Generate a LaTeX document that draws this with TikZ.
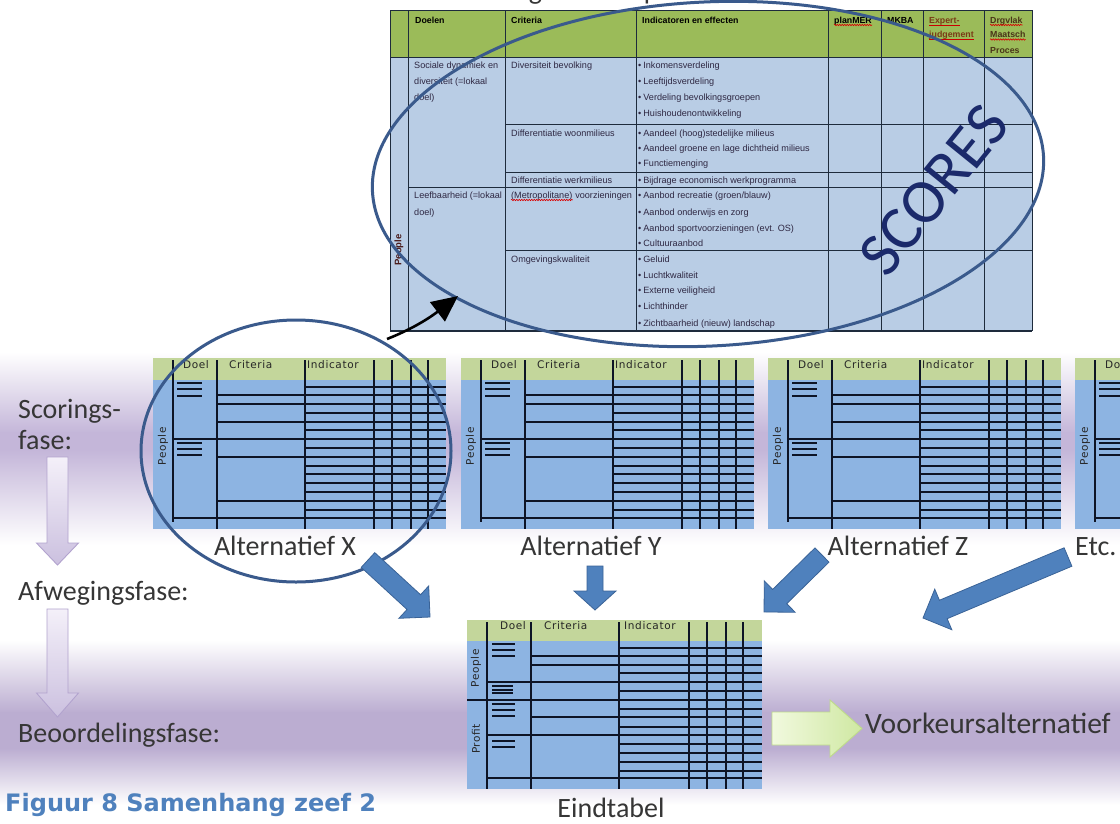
\documentclass[tikz,border=0pt]{standalone}
\usepackage{fontspec}
\setmainfont{Carlito}
\newfontfamily\tblfont{Liberation Sans}
\newfontfamily\hdrfont[LetterSpace=6]{DejaVu Sans}
\newfontfamily\figfont{DejaVu Sans}
\usetikzlibrary{calc,arrows.meta,decorations.pathmorphing}
\definecolor{lav}{HTML}{C4B6D9}
\definecolor{lavb}{HTML}{BBADD1}
\definecolor{tophdr}{HTML}{9BBB59}
\definecolor{topbody}{HTML}{B9CDE5}
\definecolor{topline}{HTML}{1E2B3C}
\definecolor{smhdr}{HTML}{C3D69B}
\definecolor{smbody}{HTML}{8DB4E2}
\definecolor{smline}{HTML}{0D1426}
\definecolor{ellcol}{HTML}{3A5A8C}
\definecolor{scorecol}{HTML}{1B2A6B}
\definecolor{txtcol}{HTML}{363636}
\definecolor{celltxt}{HTML}{2E2742}
\definecolor{barrow}{HTML}{4F81BD}
\definecolor{barrowd}{HTML}{3A6397}
\definecolor{figblue}{HTML}{4F81BD}
\definecolor{brownhdr}{HTML}{7A3B16}
\definecolor{darkbrown}{HTML}{4A3418}
\definecolor{peoplered}{HTML}{4A1C1C}
\definecolor{purpA}{HTML}{F4F0F9}
\definecolor{purpB}{HTML}{CBC0DF}
\definecolor{purpD}{HTML}{B2A3CE}
\definecolor{grnA}{HTML}{F1F9DE}
\definecolor{grnB}{HTML}{CFE8A2}
\definecolor{grnD}{HTML}{BEDB8A}

\tikzset{
  biglabel/.style={font=\fontsize{28}{30}\selectfont, text=txtcol, inner sep=0, anchor=base west},
  gridl/.style={draw=smline, line width=1.4},
  dbar/.style={draw=smline, line width=2.8},
  smh/.style={font=\hdrfont\fontsize{10.5}{11}\selectfont, text=black!85, inner sep=0},
  tgrid/.style={draw=topline, line width=0.9},
  cell/.style={font=\tblfont\fontsize{9.1}{10}\selectfont, text=celltxt, inner sep=0, anchor=base west},
  thd/.style={font=\tblfont\bfseries\fontsize{8.8}{10}\selectfont, text=black, inner sep=0, anchor=base west},
  squig/.style={draw=red!85!black, line width=0.6, decorate, decoration={snake, amplitude=0.7pt, segment length=2.5pt}},
  bluearrow/.style={fill=barrow, draw=barrowd, line width=0.8},
}

% block arrow from coordinate #2 to coordinate #3
\newcommand\blockarr[6]{%
  \pgfmathanglebetweenpoints{\pgfpointanchor{#2}{center}}{\pgfpointanchor{#3}{center}}%
  \edef\baang{\pgfmathresult}%
  \pgfpointdiff{\pgfpointanchor{#2}{center}}{\pgfpointanchor{#3}{center}}%
  \pgfgetlastxy{\bax}{\bay}%
  \pgfmathveclen{\bax}{\bay}%
  \edef\balen{\pgfmathresult}%
  \begin{scope}[shift={(#2)}, rotate=\baang, x=1pt, y=1pt]
    \path[#1] (0,-#4) -- ({\balen-#6},-#4) -- ({\balen-#6},-#5) -- (\balen,0)
      -- ({\balen-#6},#5) -- ({\balen-#6},#4) -- (0,#4) -- cycle;
  \end{scope}}

% small alternative table
\newcommand\alttable[3]{%
\begin{scope}[shift={(#1,#2)}]
  \fill[smhdr] (0,0) rectangle (293,22);
  \fill[smbody] (0,22) rectangle (293,171);
  \foreach \yy in {29,37,46,55,64,72,90,99,108,116,125,134,143,152}
    \draw[gridl] (152,\yy) -- (293,\yy);
  \foreach \yy in {37,46,64,99,143}
    \draw[gridl] (64,\yy) -- (152,\yy);
  \foreach \yy in {81,160}
    \draw[gridl] (20,\yy) -- (293,\yy);
  \draw[gridl] (20,2) -- (20,164);
  \foreach \xx in {64,152,221,239,258,275}
    \draw[gridl] (\xx,2) -- (\xx,171);
  \foreach \yy in {25,31,38,85,91,97}
    \draw[dbar] (24,\yy) -- (49,\yy);
  \node[smh] (#3-doel) at (43,7) {Doel};
  \node[smh,anchor=west] (#3-crit) at (76,7) {Criteria};
  \node[smh,anchor=west] (#3-ind) at (154,7) {Indicator};
  \node[smh,rotate=90] (#3-pp) at (10,88) {People};
\end{scope}}

\begin{document}
\begin{tikzpicture}[x=1pt,y=-1pt]
\useasboundingbox (0,0) rectangle (1120,823);
\clip (0,0) rectangle (1120,823);
\fill[white] (0,0) rectangle (1120,823);

% background bands
\shade[top color=white, bottom color=lav] (0,352) rectangle (1120,433);
\fill[lav] (0,432) rectangle (1120,451);
\shade[top color=lav, bottom color=white] (0,450) rectangle (1120,545);
\shade[top color=white, bottom color=lavb] (0,640) rectangle (1120,713);
\fill[lavb] (0,712) rectangle (1120,749);
\shade[top color=lavb, bottom color=white] (0,748) rectangle (1120,805);

% clipped title at the top
\node[anchor=base west, inner sep=0, font=\fontsize{28}{30}\selectfont, text=txtcol] (title) at (152,-0.5) {Schematisch overzicht samenhang in de stap};

% ===== top table =====
\fill[tophdr] (390,10) rectangle (1032,57);
\fill[topbody] (390,57) rectangle (1032,331);
\foreach \xx in {390,408,505,636,828,881,923,984,1032}
  \draw[tgrid] (\xx,10) -- (\xx,331);
\draw[tgrid] (390,10) -- (1032,10);
\draw[tgrid] (390,57) -- (1032,57);
\foreach \yy in {124,172,250}
  \draw[tgrid] (505,\yy) -- (1032,\yy);
\draw[tgrid] (408,187) -- (1032,187);
\draw[draw=topline, line width=1.6] (390,331) -- (1032,331);

% header
\node[thd] (h1) at (415,23) {Doelen};
\node[thd] (h2) at (511,23) {Criteria};
\node[thd] (h3) at (642,23) {Indicatoren en effecten};
\node[thd] (h4) at (834,23) {planMER};
\node[thd] (h5) at (887,23) {MKBA};
\node[thd, text=brownhdr] (h6a) at (929,23) {Expert-};
\node[thd, text=brownhdr] (h6b) at (929,37.5) {judgement};
\node[thd, text=darkbrown] (h7a) at (990,23) {Drgvlak};
\node[thd, text=darkbrown] (h7b) at (990,37.5) {Maatsch};
\node[thd, text=darkbrown] (h7c) at (990,53) {Proces};
\draw[squig] ([yshift=-2pt]h4.base west) -- ([yshift=-2pt]h4.base east);
\draw[red!80!black, line width=0.6] ([yshift=-2pt]h6a.base west) -- ([yshift=-2pt]h6a.base east);
\draw[red!80!black, line width=0.6] ([yshift=-2pt]h6b.base west) -- ([yshift=-2pt]h6b.base east);
\draw[squig] ([yshift=-2pt]h7a.base west) -- ([yshift=-2pt]h7a.base east);
\draw[squig] ([yshift=-2pt]h7b.base west) -- ([yshift=-2pt]h7b.base east);

% People (top table)
\node[thd, anchor=center, rotate=90, text=peoplered, font=\tblfont\bfseries\fontsize{9.5}{10}\selectfont] (tpeople) at (399,250) {People};

% Doelen column
\node[cell] (d1) at (414,68) {Sociale dynamiek en};
\node[cell] (d2) at (414,84) {diversiteit (=lokaal};
\node[cell] (d3) at (414,100) {doel)};
\node[cell] (d4) at (414,198) {Leefbaarheid (=lokaal};
\node[cell] (d5) at (414,215) {doel)};

% Criteria column
\node[cell] (c1) at (511,68) {Diversiteit bevolking};
\node[cell] (c2) at (511,136) {Differentiatie woonmilieus};
\node[cell] (c3) at (511,183) {Differentiatie werkmilieus};
\node[cell] (c4a) at (511,198) {(Metropolitane)};
\node[cell, anchor=base west] (c4b) at ([xshift=2.5pt]c4a.base east) {voorzieningen};
\draw[squig] ([yshift=-2pt]c4a.base west) -- ([yshift=-2pt]c4a.base east);
\node[cell] (c5) at (511,262) {Omgevingskwaliteit};

% Indicator column
\foreach \yy/\lbl [count=\i] in {68/{Inkomensverdeling}, 84/{Leeftijdsverdeling}, 100/{Verdeling bevolkingsgroepen}, 116/{Huishoudenontwikkeling},
  136/{Aandeel (hoog)stedelijke milieus}, 151/{Aandeel groene en lage dichtheid milieus}, 166/{Functiemenging},
  183/{Bijdrage economisch werkprogramma},
  198/{Aanbod recreatie (groen/blauw)}, 215/{Aanbod onderwijs en zorg}, 231/{Aanbod sportvoorzieningen (evt. OS)}, 246/{Cultuuraanbod},
  262/{Geluid}, 278/{Luchtkwaliteit}, 293/{Externe veiligheid}, 309/{Lichthinder}, 326/{Zichtbaarheid (nieuw) landschap}}
  \node[cell] (ind-\i) at (638,\yy) {\textbullet\hspace{2pt}\lbl};

% big ellipse and SCORES
\draw[ellcol, line width=3] (708,174) [rotate around={3:(708,174)}] ellipse [x radius=336, y radius=172];
\node[rotate=51, inner sep=0, font=\fontsize{63}{63}\selectfont, text=scorecol] (scores) at (934,190) {SCORES};

% black curved arrow
\coordinate (ka) at (387,339);
\coordinate (kb) at (458,296);
\draw[line width=2.6, -{Triangle[length=26pt,width=24pt]}] (ka) .. controls (415,328) and (432,316) .. (kb);

% ===== alternative tables =====
\alttable{153}{358}{tx}
\alttable{461}{358}{ty}
\alttable{768}{358}{tz}
\alttable{1075}{358}{te}

% small ellipse around alternative X
\draw[ellcol, line width=3] (296,451) ellipse [x radius=155, y radius=131];

% labels of alternatives
\node[biglabel, anchor=base] (lx) at (285,555) {Alternatief X};
\node[biglabel, anchor=base] (ly) at (591,555) {Alternatief Y};
\node[biglabel, anchor=base] (lz) at (898,555) {Alternatief Z};
\node[biglabel] (le) at (1075,555) {Etc.};

% phase labels
\node[biglabel] (s1) at (18,418) {Scorings-};
\node[biglabel] (s2) at (18,449) {fase:};
\node[biglabel] (s3) at (18,600) {Afwegingsfase:};
\node[biglabel] (s4) at (18,742) {Beoordelingsfase:};

% purple down arrows
\path[top color=purpA, bottom color=purpB, draw=purpD, line width=0.9]
  (47,457) -- (68,457) -- (68,543) -- (78.5,543) -- (57.5,565) -- (36.5,543) -- (47,543) -- cycle;
\path[top color=purpA, bottom color=purpB, draw=purpD, line width=0.9]
  (47,609) -- (68,609) -- (68,693) -- (78.5,693) -- (57.5,717) -- (36.5,693) -- (47,693) -- cycle;

% blue arrows
\coordinate (xa0) at (368,560); \coordinate (xa1) at (430,617);
\coordinate (ya0) at (595,566); \coordinate (ya1) at (595,610);
\coordinate (za0) at (822,555); \coordinate (za1) at (764,612);
\coordinate (ea0) at (1068,557); \coordinate (ea1) at (923,618);
\blockarr{bluearrow}{xa0}{xa1}{10}{22}{22}
\blockarr{bluearrow}{ya0}{ya1}{8}{21}{19}
\blockarr{bluearrow}{za0}{za1}{10}{22}{22}
\blockarr{bluearrow}{ea0}{ea1}{10}{22}{22}

% ===== Eindtabel =====
\begin{scope}[shift={(467,620)}]
  \fill[smhdr] (0,0) rectangle (295,21);
  \fill[smbody] (0,21) rectangle (295,169);
  \foreach \yy in {28,36,45,53,62,71,89,97,107,124,133,142,151}
    \draw[gridl] (152,\yy) -- (295,\yy);
  \foreach \yy in {36,45,97}
    \draw[gridl] (64,\yy) -- (152,\yy);
  \draw[gridl] (20,62) -- (152,62);
  \draw[smline, line width=2.4] (64,62) -- (110,62);
  \draw[gridl] (0,80) -- (295,80);
  \draw[gridl] (20,115) -- (295,115);
  \draw[gridl] (20,158) -- (295,158);
  \foreach \xx in {20,64,152,222,240,259,276}
    \draw[gridl] (\xx,2) -- (\xx,169);
  \foreach \yy in {24,30,36,84,90,96,121,127}
    \draw[dbar] (25,\yy) -- (48,\yy);
  \foreach \yy in {66,69.5,73}
    \draw[smline, line width=2] (25,\yy) -- (46,\yy);
  \node[smh] (ed) at (46,6) {Doel};
  \node[smh,anchor=west] (ec) at (77,6) {Criteria};
  \node[smh,anchor=west] (ei) at (157,6) {Indicator};
  \node[smh,rotate=90] (epeople) at (9,48) {People};
  \node[smh,rotate=90] (eprofit) at (9,119) {Profit};
\end{scope}
\node[biglabel, anchor=base] (leind) at (611,817) {Eindtabel};

% green arrow and preferred alternative
\path[left color=grnA, right color=grnB, draw=grnD, line width=0.9]
  (772,712) -- (830,712) -- (830,700) -- (862,728.5) -- (830,757) -- (830,745) -- (772,745) -- cycle;
\node[biglabel, font=\fontsize{29.5}{31}\selectfont] (voork) at (865,733) {Voorkeursalternatief};

% caption
\node[anchor=base west, inner sep=0, font=\figfont\bfseries\fontsize{24}{26}\selectfont, text=figblue] (fig) at (5,811) {Figuur 8 Samenhang zeef 2};
\end{tikzpicture}
\end{document}
